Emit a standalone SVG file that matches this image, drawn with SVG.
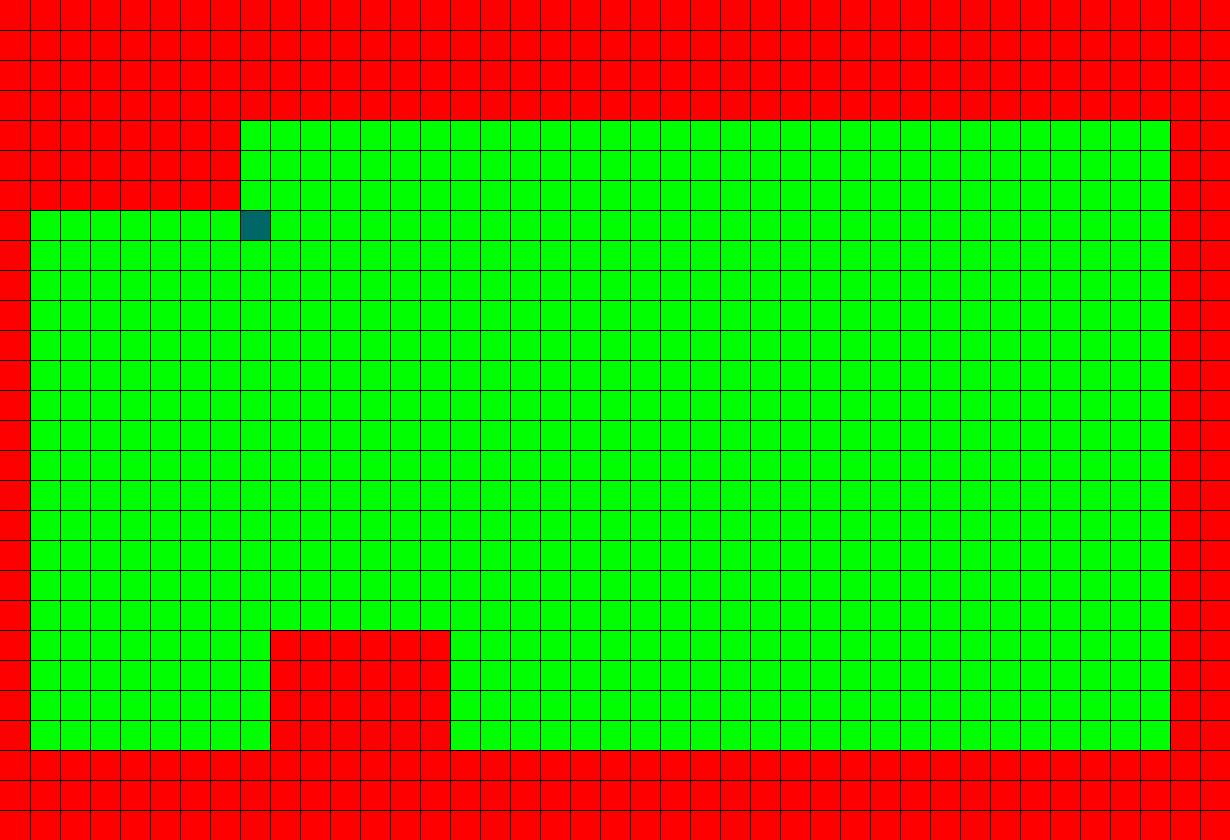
<svg xmlns="http://www.w3.org/2000/svg" width="1230" height="840" viewBox="0 0 1230 840">
<style>
.red{fill:#ff0000}
.green{fill:#00ff00}
.teal{fill:#006666}
.grid{stroke:#000000;stroke-width:1;fill:none;shape-rendering:crispEdges}
</style>
<g id="background">
<rect class="red" x="0" y="0" width="1230" height="840"/>
</g>
<g id="green-region">
<rect class="green" x="240" y="120" width="930" height="90"/>
<rect class="green" x="30" y="210" width="1140" height="420"/>
<rect class="green" x="30" y="630" width="240" height="120"/>
<rect class="green" x="450" y="630" width="720" height="120"/>
</g>
<g id="marker-cell">
<rect class="teal" x="240" y="210" width="30" height="30"/>
</g>
<g id="gridlines">
<path class="grid" d="M30.5 0V840M60.5 0V840M90.5 0V840M120.5 0V840M150.5 0V840M180.5 0V840M210.5 0V840M240.5 0V840M270.5 0V840M300.5 0V840M330.5 0V840M360.5 0V840M390.5 0V840M420.5 0V840M450.5 0V840M480.5 0V840M510.5 0V840M540.5 0V840M570.5 0V840M600.5 0V840M630.5 0V840M660.5 0V840M690.5 0V840M720.5 0V840M750.5 0V840M780.5 0V840M810.5 0V840M840.5 0V840M870.5 0V840M900.5 0V840M930.5 0V840M960.5 0V840M990.5 0V840M1020.5 0V840M1050.5 0V840M1080.5 0V840M1110.5 0V840M1140.5 0V840M1170.5 0V840M1200.5 0V840M0 30.5H1230M0 60.5H1230M0 90.5H1230M0 120.5H1230M0 150.5H1230M0 180.5H1230M0 210.5H1230M0 240.5H1230M0 270.5H1230M0 300.5H1230M0 330.5H1230M0 360.5H1230M0 390.5H1230M0 420.5H1230M0 450.5H1230M0 480.5H1230M0 510.5H1230M0 540.5H1230M0 570.5H1230M0 600.5H1230M0 630.5H1230M0 660.5H1230M0 690.5H1230M0 720.5H1230M0 750.5H1230M0 780.5H1230M0 810.5H1230"/>
</g>
</svg>
